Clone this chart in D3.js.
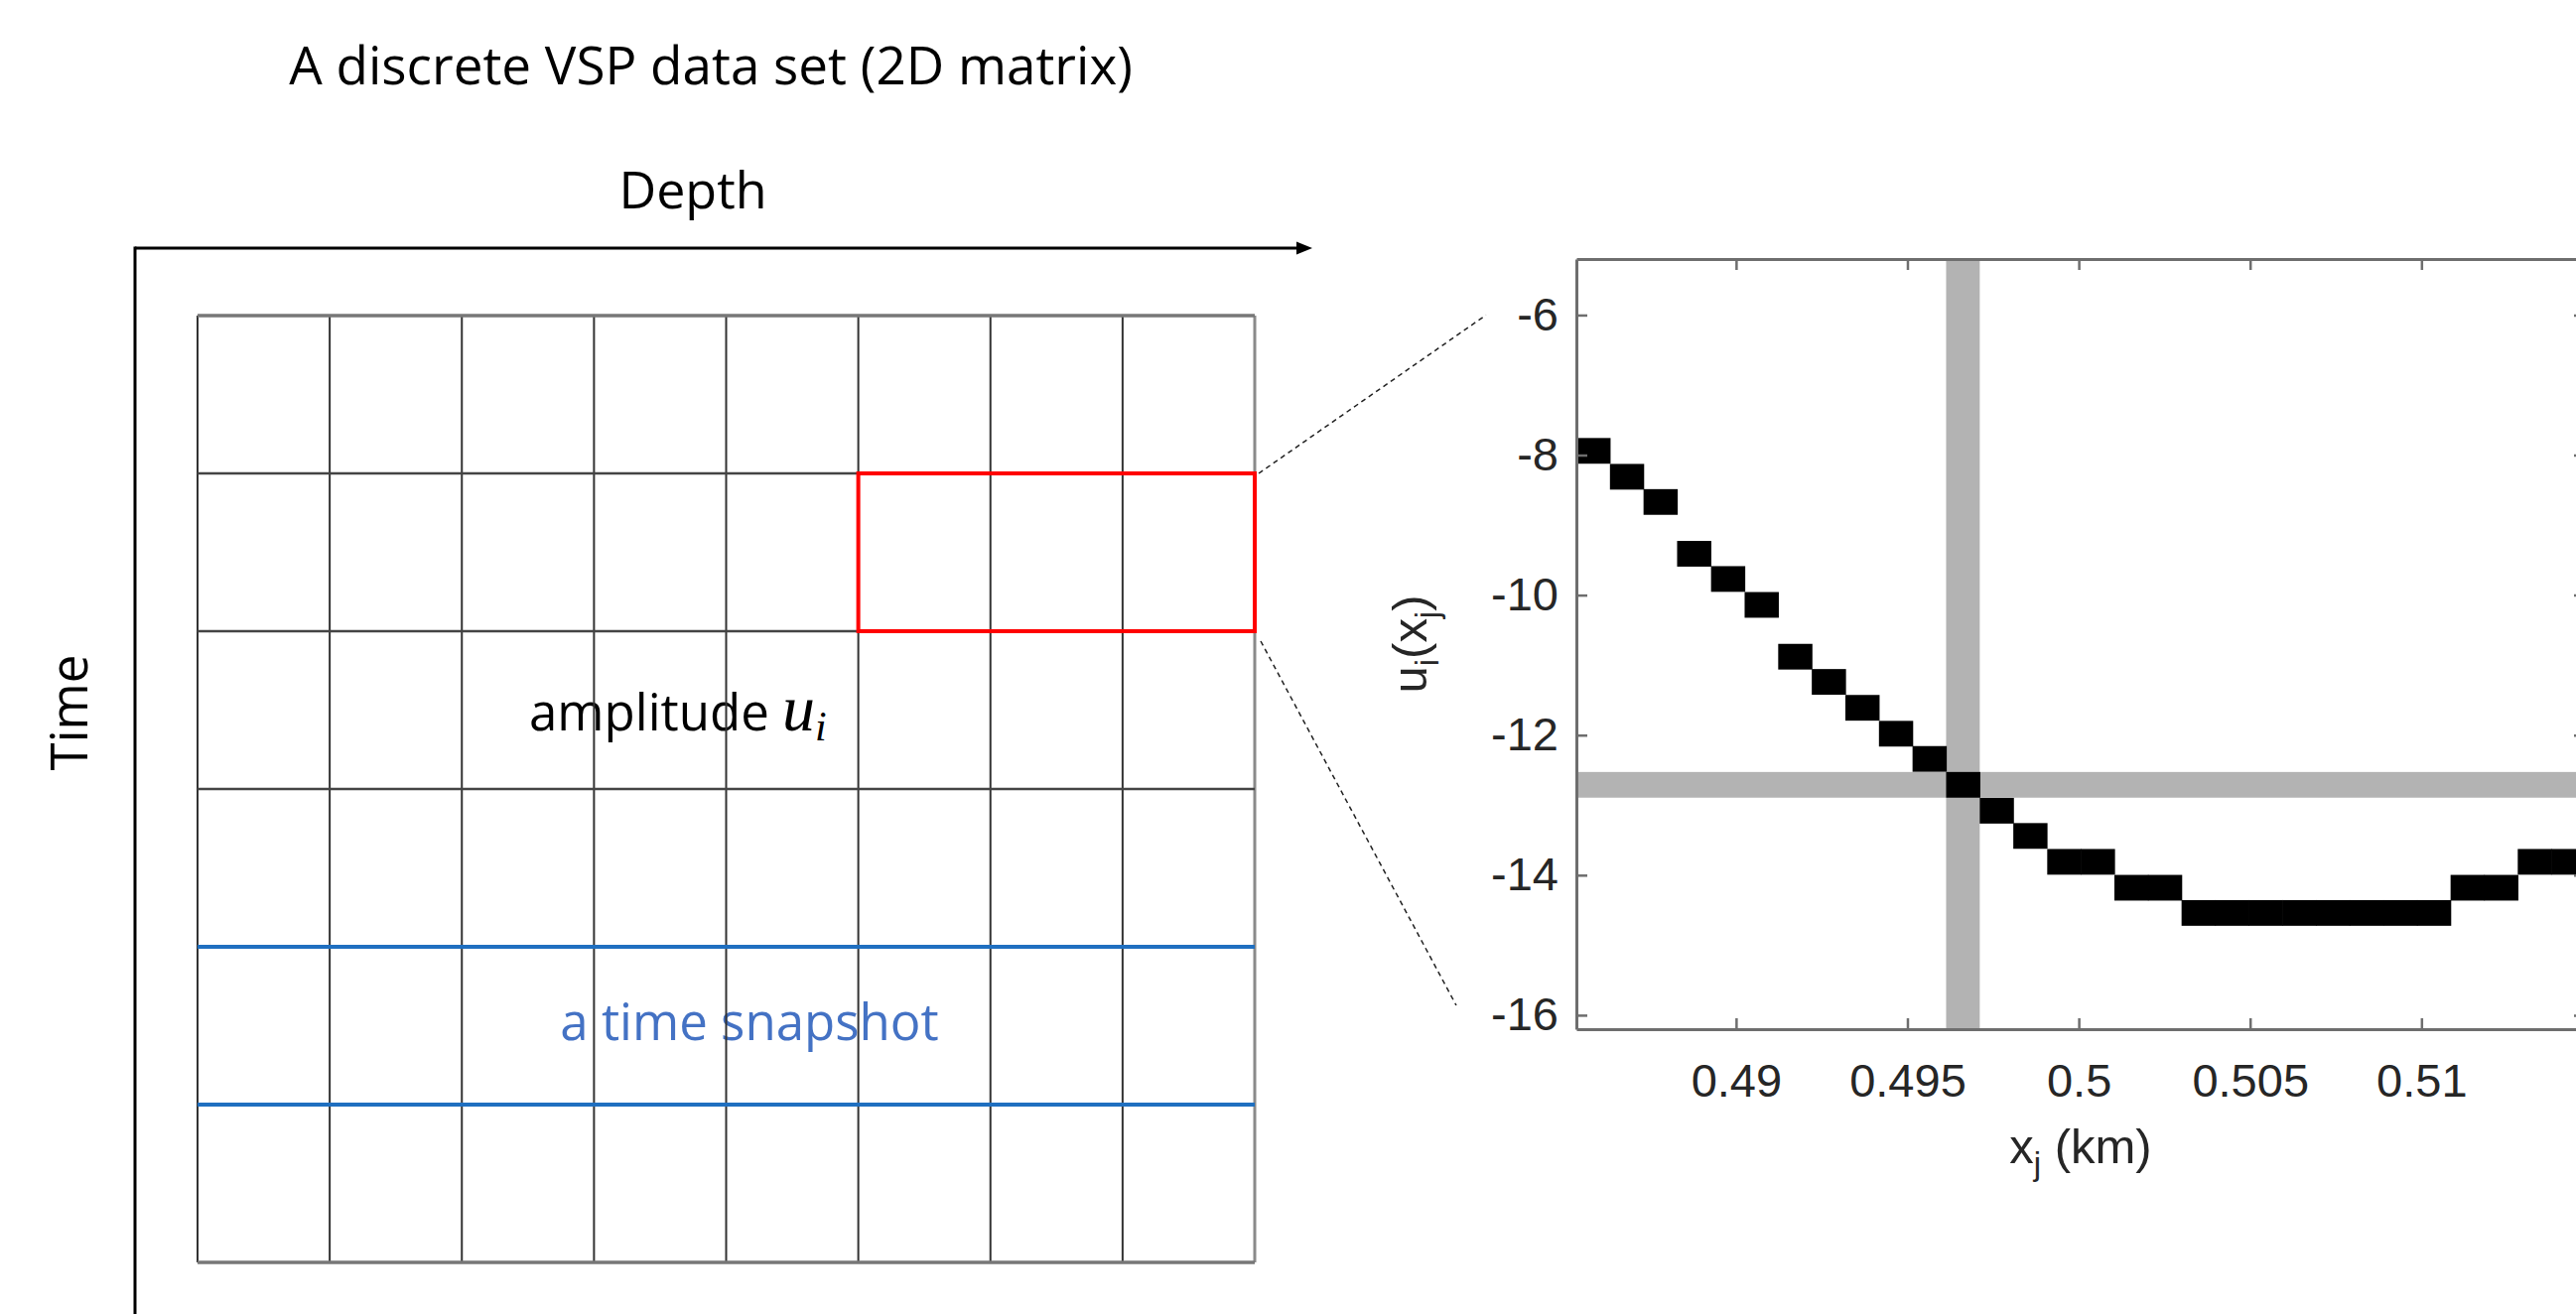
<!DOCTYPE html>
<html>
<head>
<meta charset="utf-8">
<script src="https://cdn.jsdelivr.net/npm/d3@7"></script>
<style>
  html, body { margin: 0; padding: 0; background: #fff; }
  svg { display: block; }
</style>
</head>
<body>
<script>
const width = 2595;
const height = 1324;

// left: the discrete VSP matrix (depth columns x time rows)
const depthCells = [0, 1, 2, 3, 4, 5, 6, 7];
const timeCells = [0, 1, 2, 3, 4, 5];
const zoomCols = [5, 8];
const zoomRows = [1, 2];
const snapshotRows = [4, 5];

// right: one trace u_i(x_j)
const xj = [0.48583, 0.48681, 0.48779, 0.48877, 0.48976, 0.49074, 0.49172, 0.4927, 0.49368, 0.49466,
  0.49564, 0.49662, 0.4976, 0.49858, 0.49957, 0.50055, 0.50153, 0.50251, 0.50349, 0.50447,
  0.50545, 0.50643, 0.50741, 0.50839, 0.50938, 0.51036, 0.51134, 0.51232, 0.5133, 0.51428];
const ui = [-7.94, -8.31, -8.67, -9.41, -9.77, -10.14, -10.88, -11.24, -11.61, -11.98,
  -12.34, -12.71, -13.08, -13.44, -13.81, -13.81, -14.18, -14.18, -14.54, -14.54,
  -14.54, -14.54, -14.54, -14.54, -14.54, -14.54, -14.18, -14.18, -13.81, -13.81];
const dx = 0.000981;
const du = 0.367;
const pickIndex = 11;
const xDomain = [0.48534, 0.51477];
const yDomain = [-16.2, -5.2];
const xTicks = [0.49, 0.495, 0.5, 0.505, 0.51];
const xTickLabels = ['0.49', '0.495', '0.5', '0.505', '0.51'];
const yTicks = [-16, -14, -12, -10, -8, -6];

const diagramFont = "'Open Sans', 'Noto Sans', sans-serif";
const mathFont = "'Liberation Serif', 'DejaVu Serif', serif";
const plotFont = "'Liberation Sans', Arial, sans-serif";

const svg = d3.select('body').append('svg').attr('width', width).attr('height', height);

const gridX = d3.scaleLinear().domain([0, depthCells.length]).range([199, 1264]);
const gridY = d3.scaleLinear().domain([0, timeCells.length]).range([318, 1272]);

const plot = { left: 1588, right: 2604, top: 261, bottom: 1037 };
const xScale = d3.scaleLinear().domain(xDomain).range([plot.left, plot.right]);
const yScale = d3.scaleLinear().domain(yDomain).range([plot.bottom, plot.top]);

drawMatrix();
drawConnectors();
drawTrace();

function drawMatrix() {
  const g = svg.append('g').attr('font-family', diagramFont).attr('fill', '#000');

  g.append('text').attr('x', 716).attr('y', 85).attr('text-anchor', 'middle')
    .attr('font-size', 53).text('A discrete VSP data set (2D matrix)');
  g.append('text').attr('x', 698).attr('y', 210).attr('text-anchor', 'middle')
    .attr('font-size', 52).text('Depth');
  g.append('text').attr('transform', 'translate(88,718) rotate(-90)').attr('text-anchor', 'middle')
    .attr('font-size', 51).text('Time');

  // depth / time arrows
  g.append('line').attr('x1', 136).attr('x2', 1310).attr('y1', 250).attr('y2', 250)
    .attr('stroke', '#000').attr('stroke-width', 3);
  g.append('path').attr('d', 'M1306,243.5L1322,250L1306,256.5Z').attr('fill', '#000');
  g.append('line').attr('x1', 136).attr('x2', 136).attr('y1', 248.5).attr('y2', height)
    .attr('stroke', '#000').attr('stroke-width', 3);

  const amp = g.append('text').attr('x', 533).attr('y', 736).attr('font-size', 51);
  amp.append('tspan').text('amplitude ');
  amp.append('tspan').attr('font-family', mathFont)
    .attr('font-style', 'italic').attr('font-size', 66).text('u');
  amp.append('tspan').attr('font-family', mathFont)
    .attr('font-style', 'italic').attr('font-size', 42).attr('dy', 10).text('i');

  g.append('text').attr('x', 755).attr('y', 1048).attr('text-anchor', 'middle')
    .attr('font-size', 51).attr('fill', '#4472c4').text('a time snapshot');

  const cols = [...depthCells, depthCells.length];
  const rows = [...timeCells, timeCells.length];

  g.selectAll('line.v').data(cols).join('line').attr('class', 'v')
    .attr('x1', d => gridX(d)).attr('x2', d => gridX(d))
    .attr('y1', gridY(0)).attr('y2', gridY(timeCells.length))
    .attr('stroke', d => (d === depthCells.length ? '#8a8a8a' : '#333'))
    .attr('stroke-width', d => (d === depthCells.length ? 3 : 2));

  g.selectAll('line.h').data(rows).join('line').attr('class', 'h')
    .attr('x1', gridX(0)).attr('x2', gridX(depthCells.length))
    .attr('y1', d => gridY(d)).attr('y2', d => gridY(d))
    .attr('stroke', d => (d === 0 || d === timeCells.length ? '#777' : '#444'))
    .attr('stroke-width', d => (d === 0 || d === timeCells.length ? 3.5 : 2.5));

  g.selectAll('line.snap').data(snapshotRows).join('line').attr('class', 'snap')
    .attr('x1', gridX(0)).attr('x2', gridX(depthCells.length))
    .attr('y1', d => gridY(d)).attr('y2', d => gridY(d))
    .attr('stroke', '#1f6fc0').attr('stroke-width', 4);

  g.append('rect')
    .attr('x', gridX(zoomCols[0])).attr('y', gridY(zoomRows[0]))
    .attr('width', gridX(zoomCols[1]) - gridX(zoomCols[0]))
    .attr('height', gridY(zoomRows[1]) - gridY(zoomRows[0]))
    .attr('fill', 'none').attr('stroke', '#ff0000').attr('stroke-width', 4);
}

function drawConnectors() {
  const g = svg.append('g').attr('stroke', '#222').attr('stroke-width', 1.5)
    .attr('stroke-dasharray', '5,4').attr('fill', 'none');
  g.append('line')
    .attr('x1', gridX(zoomCols[1]) + 4).attr('y1', gridY(zoomRows[0]))
    .attr('x2', plot.left - 91).attr('y2', yScale(-6));
  g.append('line')
    .attr('x1', gridX(zoomCols[1]) + 6).attr('y1', gridY(zoomRows[1]) + 10)
    .attr('x2', plot.left - 121).attr('y2', yScale(-15.86));
}

function drawTrace() {
  const g = svg.append('g');
  const data = xj.map((x, i) => ({ x, u: ui[i] }));
  const pick = data[pickIndex];

  // highlighted sample: gray column and row
  g.append('rect')
    .attr('x', xScale(pick.x - dx / 2)).attr('y', plot.top)
    .attr('width', xScale(pick.x + dx / 2) - xScale(pick.x - dx / 2))
    .attr('height', plot.bottom - plot.top).attr('fill', '#b3b3b3');
  g.append('rect')
    .attr('x', plot.left).attr('y', yScale(pick.u + du / 2))
    .attr('width', plot.right - plot.left)
    .attr('height', yScale(pick.u - du / 2) - yScale(pick.u + du / 2)).attr('fill', '#b3b3b3');

  g.selectAll('rect.cell').data(data).join('rect').attr('class', 'cell')
    .attr('x', d => xScale(d.x - dx / 2))
    .attr('y', d => yScale(d.u + du / 2))
    .attr('width', d => xScale(d.x + dx / 2) - xScale(d.x - dx / 2) + 0.6)
    .attr('height', d => yScale(d.u - du / 2) - yScale(d.u + du / 2))
    .attr('fill', '#000');

  const axisColor = '#6e6e6e';
  const style = sel => {
    sel.attr('font-family', plotFont).attr('font-size', 47);
    sel.select('.domain').attr('stroke', axisColor).attr('stroke-width', 3);
    sel.selectAll('.tick line').attr('stroke', axisColor).attr('stroke-width', 2.5);
    sel.selectAll('.tick text').attr('fill', '#262626');
  };

  g.append('g').attr('transform', `translate(0,${plot.bottom})`)
    .call(d3.axisBottom(xScale).tickValues(xTicks).tickFormat((d, i) => xTickLabels[i])
      .tickSizeInner(-11).tickSizeOuter(0).tickPadding(35))
    .call(style);
  g.append('g').attr('transform', `translate(0,${plot.top})`)
    .call(d3.axisTop(xScale).tickValues(xTicks).tickFormat('')
      .tickSizeInner(-11).tickSizeOuter(0))
    .call(style);
  g.append('g').attr('transform', `translate(${plot.left},0)`)
    .call(d3.axisLeft(yScale).tickValues(yTicks).tickFormat(d => String(d))
      .tickSizeInner(-11).tickSizeOuter(0).tickPadding(18))
    .call(style);
  g.append('g').attr('transform', `translate(${plot.right},0)`)
    .call(d3.axisRight(yScale).tickValues(yTicks).tickFormat('')
      .tickSizeInner(-11).tickSizeOuter(0))
    .call(style);

  const labels = g.append('g').attr('font-family', plotFont).attr('fill', '#262626');

  const xl = labels.append('text').attr('x', (plot.left + plot.right) / 2).attr('y', 1172)
    .attr('text-anchor', 'middle').attr('font-size', 49);
  xl.append('tspan').text('x');
  xl.append('tspan').attr('font-size', 33).attr('dy', 12).text('j');
  xl.append('tspan').attr('dy', -12).text(' (km)');

  const yl = labels.append('text')
    .attr('transform', `translate(1437,${(plot.top + plot.bottom) / 2}) rotate(-90)`)
    .attr('text-anchor', 'middle').attr('font-size', 49);
  yl.append('tspan').text('u');
  yl.append('tspan').attr('font-size', 33).attr('dy', 12).text('i');
  yl.append('tspan').attr('dy', -12).text('(x');
  yl.append('tspan').attr('font-size', 33).attr('dy', 12).text('j');
  yl.append('tspan').attr('dy', -12).text(')');
}
</script>
</body>
</html>
